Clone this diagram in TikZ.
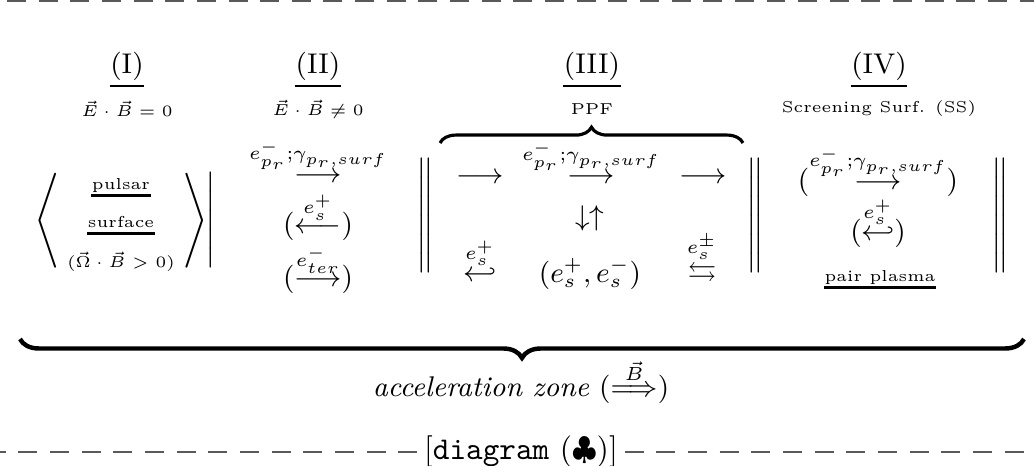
\documentclass[tikz,border=0pt]{standalone}
\usepackage{amsmath, amssymb}
\usepackage{tikz}
\usetikzlibrary{decorations.pathreplacing}

\newcommand{\tallbar}[2]{$\delimitershortfall=0pt\delimiterfactor=1000\left#1\vcenter{\hrule height #2 width 0pt}\right.$}
\newcommand{\prlabel}{e^-_{p_r};\gamma_{p_r,surf}}

\begin{document}
\begin{tikzpicture}[x=0.316pt, y=-0.316pt, font=\small,
  dashline/.style={black!65, line width=0.8pt, dash pattern=on 6pt off 4pt},
  ulbar/.style={line width=0.8pt},
  ul/.style={append after command={(\tikzlastnode.south west) edge[ulbar] (\tikzlastnode.south east)}},
  head/.style={inner xsep=0pt, inner ysep=1.5pt, ul},
  tag/.style={font=\tiny, inner sep=0pt},
  tagul/.style={font=\tiny, inner xsep=0pt, inner ysep=0.6pt, text height=3.5pt, text depth=1pt, ul},
  delim/.style={font=\normalsize, inner sep=0pt},
  mrow/.style={anchor=base, inner sep=0pt},
  curly/.style={decorate, decoration={brace, amplitude=#1}},
]
  \useasboundingbox (0,0) rectangle (1034,466);

  % headings and subtitles
  \foreach \x/\nm/\hd/\sb in {127/I/{(I)}/{$\vec E\cdot\vec B=0$},
                              318/II/{(II)}/{$\vec E\cdot\vec B\neq 0$},
                              592/III/{(III)}/PPF,
                              879/IV/{(IV)}/{Screening Surf. (SS)}} {
    \node[head] (h\nm) at (\x,66.5) {\hd};
    \node[tag] (s\nm) at (\x,109) {\sb};
  }

  % (I) pulsar surface
  \node[delim] (lang) at (47,220.5) {$\Bigg\langle$};
  \node[tagul] (pulsar) at (121,186) {pulsar};
  \node[tagul] (surface) at (121,224) {surface};
  \node[tag] (omega) at (121,262) {$(\vec\Omega\cdot\vec B>0)$};
  \node[delim] (rang) at (195,220.5) {$\Bigg\rangle$};
  \node[delim] (bar) at (213,220) {\tallbar{|}{30pt}};

  % (II)
  \node[mrow] (c2a) at (318,183) {$\overset{\prlabel}{\longrightarrow}$};
  \node[mrow] (c2b) at (318,234) {$(\overset{e_s^+}{\longleftarrow})$};
  \node[mrow] (c2c) at (318,287) {$(\overset{e^-_{ter}}{\longrightarrow})$};

  % (III) PPF
  \node[mrow] (c3l) at (480,184) {$\longrightarrow$};
  \node[mrow] (c3m) at (591,184) {$\overset{\prlabel}{\longrightarrow}$};
  \node[mrow] (c3r) at (703,184) {$\longrightarrow$};
  \node[mrow] (c3ud) at (590,226) {$\downarrow\uparrow$};
  \node[mrow] (c3hook) at (480,282) {$\overset{e_s^+}{\hookleftarrow}$};
  \node[mrow] (c3pair) at (590,283) {$(e_s^+,e_s^-)$};
  \node[mrow] (c3lr) at (702,282) {$\overset{e_s^\pm}{\leftrightarrows}$};

  % (IV) screening surface
  \node[mrow] (c4a) at (878,190) {$(\overset{\prlabel}{\longrightarrow})$};
  \node[mrow] (c4b) at (878,241) {$(\overset{e_s^+}{\hookleftarrow})$};
  \node[tagul] (plasma) at (880,278) {pair plasma};

  \foreach \x/\nm in {427/a, 757/b, 1002/c}
    \node[delim] (dbar\nm) at (\x,215.5) {\tallbar{\|}{33pt}};

  % braces
  \coordinate (pl) at (440,143);
  \coordinate (pr) at (743,143);
  \draw[curly=5pt, line width=1pt] (pl) -- (pr);
  \coordinate (al) at (20,339);
  \coordinate (ar) at (1024,339);
  \draw[curly=6pt, line width=1.4pt] (ar) -- (al);
  \node[anchor=base] (acc) at (521,397) {\textit{acceleration zone} $(\overset{\vec B}{\Longrightarrow})$};

  % dashed rules
  \coordinate (tl) at (7,1);
  \coordinate (tr) at (1034,1);
  \draw[dashline] (tl) -- (tr);
  \node[anchor=base, inner sep=2pt, font=\normalsize] (foot) at (521,460) {[\texttt{diagram} ($\clubsuit$)]};
  \coordinate (bl) at (0,452);
  \coordinate (br) at (1034,452);
  \draw[dashline] (bl -| foot.west) -- (bl);
  \draw[dashline] (foot.east |- br) -- (br);
\end{tikzpicture}
\end{document}
